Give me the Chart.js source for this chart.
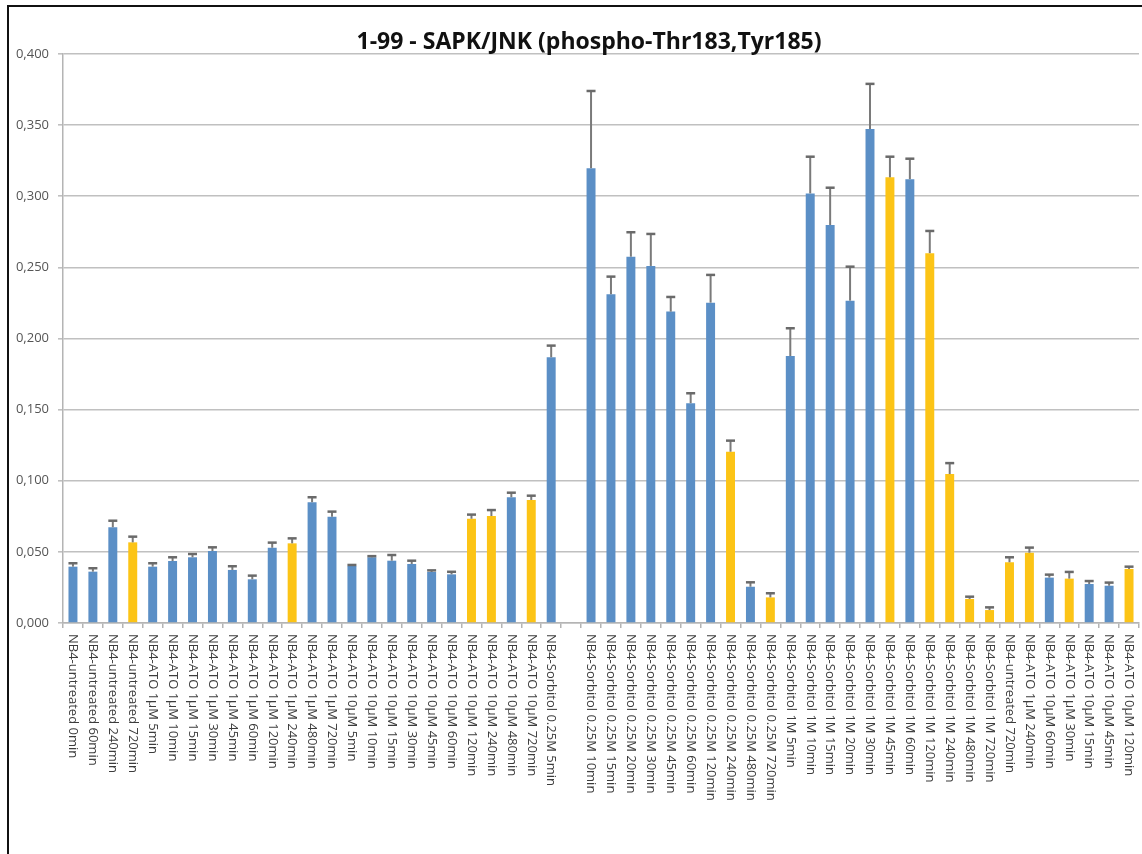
<!DOCTYPE html>
<html>
<head>
<meta charset="utf-8">
<script src="https://cdn.jsdelivr.net/npm/chart.js@4.4.1/dist/chart.umd.min.js"></script>
<style>
  html, body { margin: 0; padding: 0; background: #ffffff; }
  #wrap { position: relative; width: 1142px; height: 854px; overflow: hidden; }
  #frame { position: absolute; left: 7px; top: 5px; right: -6px; bottom: -6px;
           border-left: 2px solid #111; border-top: 2px solid #111; pointer-events: none; }
</style>
</head>
<body>
<div id="wrap">
  <canvas id="c" width="1142" height="854"></canvas>
  <div id="frame"></div>
</div>
<script>
const chartTitle = '1-99 - SAPK/JNK (phospho-Thr183,Tyr185)';

const categories = [
  'NB4-untreated 0min', 'NB4-untreated 60min', 'NB4-untreated 240min', 'NB4-untreated 720min',
  'NB4-ATO 1µM 5min', 'NB4-ATO 1µM 10min', 'NB4-ATO 1µM 15min', 'NB4-ATO 1µM 30min',
  'NB4-ATO 1µM 45min', 'NB4-ATO 1µM 60min', 'NB4-ATO 1µM 120min', 'NB4-ATO 1µM 240min',
  'NB4-ATO 1µM 480min', 'NB4-ATO 1µM 720min',
  'NB4-ATO 10µM 5min', 'NB4-ATO 10µM 10min', 'NB4-ATO 10µM 15min', 'NB4-ATO 10µM 30min',
  'NB4-ATO 10µM 45min', 'NB4-ATO 10µM 60min', 'NB4-ATO 10µM 120min', 'NB4-ATO 10µM 240min',
  'NB4-ATO 10µM 480min', 'NB4-ATO 10µM 720min',
  'NB4-Sorbitol 0.25M 5min', '',
  'NB4-Sorbitol 0.25M 10min', 'NB4-Sorbitol 0.25M 15min', 'NB4-Sorbitol 0.25M 20min',
  'NB4-Sorbitol 0.25M 30min', 'NB4-Sorbitol 0.25M 45min', 'NB4-Sorbitol 0.25M 60min',
  'NB4-Sorbitol 0.25M 120min', 'NB4-Sorbitol 0.25M 240min', 'NB4-Sorbitol 0.25M 480min',
  'NB4-Sorbitol 0.25M 720min',
  'NB4-Sorbitol 1M 5min', 'NB4-Sorbitol 1M 10min', 'NB4-Sorbitol 1M 15min', 'NB4-Sorbitol 1M 20min',
  'NB4-Sorbitol 1M 30min', 'NB4-Sorbitol 1M 45min', 'NB4-Sorbitol 1M 60min', 'NB4-Sorbitol 1M 120min',
  'NB4-Sorbitol 1M 240min', 'NB4-Sorbitol 1M 480min', 'NB4-Sorbitol 1M 720min',
  'NB4-untreated 720min', 'NB4-ATO 1µM 240min', 'NB4-ATO 10µM 60min', 'NB4-ATO 1µM 30min',
  'NB4-ATO 10µM 15min', 'NB4-ATO 10µM 45min', 'NB4-ATO 10µM 120min'
];

const values = [
  0.0396, 0.0361, 0.0673, 0.0567,
  0.0396, 0.0436, 0.0462, 0.0506, 0.0373, 0.0307, 0.0529, 0.0560, 0.0849, 0.0747,
  0.0401, 0.0462, 0.0438, 0.0415, 0.0359, 0.0342, 0.0733, 0.0752, 0.0884, 0.0865,
  0.1868, null,
  0.3197, 0.2311, 0.2575, 0.2510, 0.2189, 0.1545, 0.2252, 0.1204, 0.0255, 0.0180,
  0.1877, 0.3020, 0.2798, 0.2266, 0.3473, 0.3133, 0.3120, 0.2600, 0.1047, 0.0169, 0.0091,
  0.0427, 0.0494, 0.0319, 0.0312, 0.0274, 0.0262, 0.0380
];

const errTop = [
  0.0420, 0.0385, 0.0719, 0.0607,
  0.0420, 0.0462, 0.0485, 0.0532, 0.0399, 0.0333, 0.0565, 0.0595, 0.0884, 0.0783,
  0.0408, 0.0470, 0.0478, 0.0438, 0.0370, 0.0360, 0.0762, 0.0794, 0.0916, 0.0895,
  0.1950, null,
  0.3740, 0.2435, 0.2747, 0.2735, 0.2292, 0.1615, 0.2447, 0.1282, 0.0286, 0.0209,
  0.2072, 0.3278, 0.3060, 0.2505, 0.3790, 0.3278, 0.3264, 0.2756, 0.1124, 0.0185, 0.0110,
  0.0462, 0.0530, 0.0340, 0.0359, 0.0295, 0.0284, 0.0396
];

// 1 = highlighted (yellow) sample, 0 = regular (blue) sample
const highlighted = [
  0, 0, 0, 1,
  0, 0, 0, 0, 0, 0, 0, 1, 0, 0,
  0, 0, 0, 0, 0, 0, 1, 1, 0, 1,
  0, 0,
  0, 0, 0, 0, 0, 0, 0, 1, 0, 1,
  0, 0, 0, 0, 0, 1, 0, 1, 1, 1, 1,
  1, 1, 0, 1, 0, 0, 1
];

const yTicks = [0, 0.05, 0.10, 0.15, 0.20, 0.25, 0.30, 0.35, 0.40];

const BLUE = '#5b8fc6';
const YELLOW = '#fcc416';

const blueData = values.map((v, i) => highlighted[i] ? null : v);
const yellowData = values.map((v, i) => highlighted[i] ? v : null);
const blueErr = errTop.map((v, i) => highlighted[i] ? null : v);
const yellowErr = errTop.map((v, i) => highlighted[i] ? v : null);

const errorBars = {
  id: 'errorBars',
  afterDatasetsDraw(chart) {
    const ctx = chart.ctx;
    const ys = chart.scales.y;
    chart.data.datasets.forEach((ds, di) => {
      const meta = chart.getDatasetMeta(di);
      meta.data.forEach((bar, i) => {
        const e = ds.errTop[i];
        if (e == null || ds.data[i] == null) return;
        const yt = ys.getPixelForValue(e);
        ctx.save();
        ctx.strokeStyle = '#7a7a7a';
        ctx.lineWidth = 2;
        ctx.beginPath();
        ctx.moveTo(bar.x, bar.y);
        ctx.lineTo(bar.x, yt);
        ctx.stroke();
        ctx.strokeStyle = '#6a6a6a';
        ctx.lineWidth = 2.5;
        ctx.beginPath();
        ctx.moveTo(bar.x - 4.5, yt);
        ctx.lineTo(bar.x + 4.5, yt);
        ctx.stroke();
        ctx.restore();
      });
    });
  }
};

const xLabels = {
  id: 'xLabels',
  afterDraw(chart) {
    const ctx = chart.ctx;
    const xs = chart.scales.x;
    const top = chart.chartArea.bottom + 11;
    ctx.save();
    ctx.fillStyle = '#3c3c3c';
    ctx.font = '13px "Open Sans"';
    ctx.textAlign = 'left';
    ctx.textBaseline = 'middle';
    categories.forEach((lab, i) => {
      if (!lab) return;
      const px = xs.getPixelForValue(i);
      ctx.save();
      ctx.translate(px, top);
      ctx.rotate(Math.PI / 2);
      ctx.fillText(lab, 0, 0);
      ctx.restore();
    });
    ctx.restore();
  }
};

const titlePlugin = {
  id: 'titlePlugin',
  afterDraw(chart) {
    const ctx = chart.ctx;
    ctx.save();
    ctx.fillStyle = '#111111';
    ctx.font = 'bold 23px "Open Sans"';
    ctx.textAlign = 'center';
    ctx.textBaseline = 'alphabetic';
    ctx.fillText(chartTitle, 589, 49);
    ctx.restore();
  }
};

new Chart(document.getElementById('c'), {
  type: 'bar',
  data: {
    labels: categories,
    datasets: [
      { label: 'regular', data: blueData, errTop: blueErr, backgroundColor: BLUE,
        grouped: false, barPercentage: 0.45, categoryPercentage: 1.0 },
      { label: 'highlighted', data: yellowData, errTop: yellowErr, backgroundColor: YELLOW,
        grouped: false, barPercentage: 0.45, categoryPercentage: 1.0 }
    ]
  },
  options: {
    responsive: false,
    animation: false,
    layout: { padding: { top: 54, right: 3, left: 0, bottom: 0 } },
    plugins: { legend: { display: false }, tooltip: { enabled: false }, title: { display: false } },
    scales: {
      x: {
        ticks: { display: false },
        grid: { display: true, drawOnChartArea: false, drawTicks: true, tickLength: 5,
                color: '#b4b4b4', lineWidth: 1.5, offset: true },
        border: { color: '#b4b4b4', width: 1.5 },
        afterFit: s => { s.height = 231; }
      },
      y: {
        min: 0, max: 0.4,
        afterBuildTicks: s => { s.ticks = yTicks.map(v => ({ value: v })); },
        ticks: {
          callback: v => Number(v).toFixed(3).replace('.', ','),
          color: '#555555', font: { family: 'Open Sans', size: 13 }, padding: 9
        },
        grid: { color: '#c0c0c0', lineWidth: 1.6, tickLength: 5, drawTicks: true },
        border: { color: '#b4b4b4', width: 1.5 },
        afterFit: s => { s.width = 63; }
      }
    }
  },
  plugins: [errorBars, xLabels, titlePlugin]
});
</script>
</body>
</html>
